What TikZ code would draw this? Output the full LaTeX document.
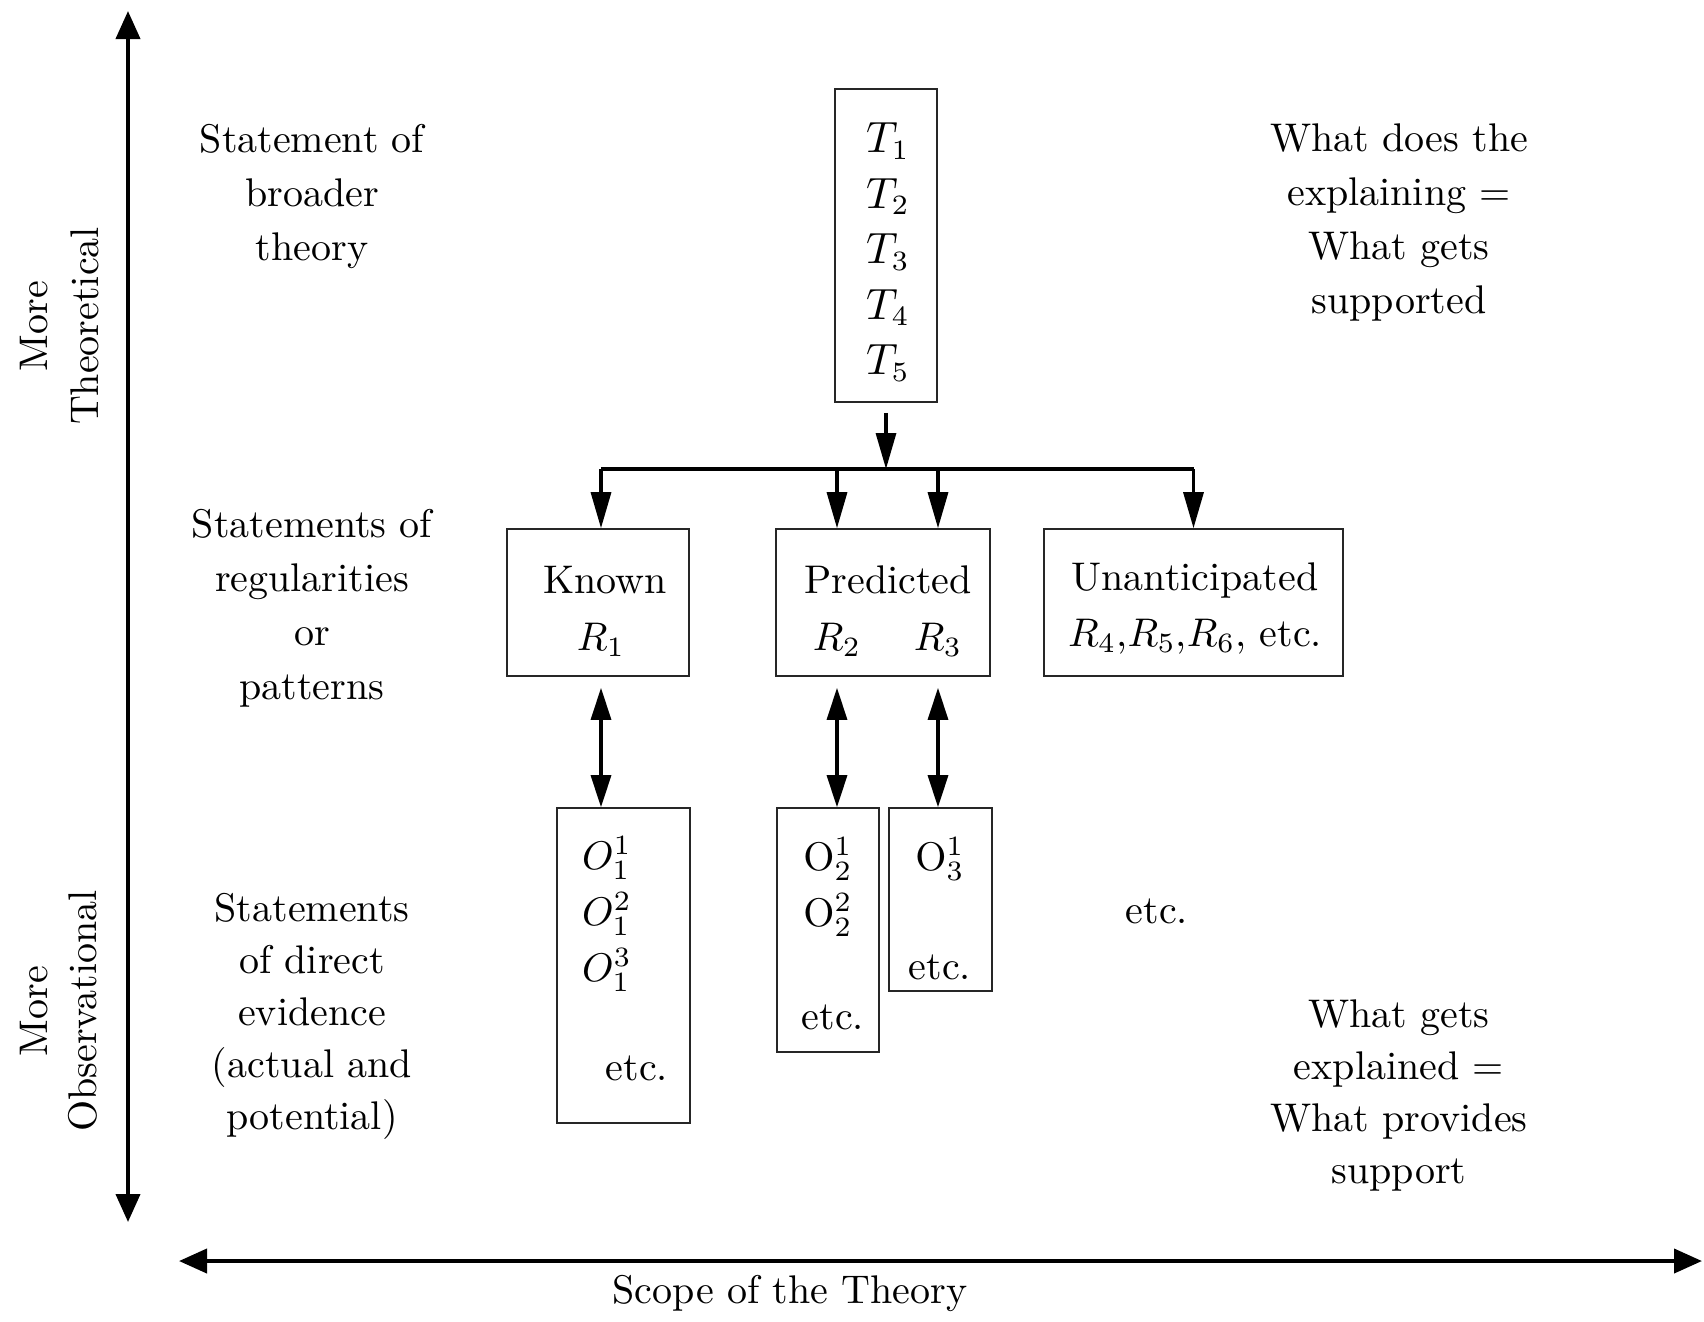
\documentclass[tikz,border=0pt]{standalone}
\usetikzlibrary{arrows.meta}
\begin{document}
\begin{tikzpicture}[x=0.25pt,y=-0.25pt,
  lbl/.style={font=\fontsize{10}{13.5}\selectfont, align=center, inner sep=0pt},
  lblb/.style={font=\fontsize{10}{13}\selectfont, align=center, inner sep=0pt},
  box/.style={draw=black!85, line width=0.4pt, inner sep=0pt},
  arr/.style={line width=0.8pt, -{Triangle[length=9pt,width=5pt]}},
  darr/.style={line width=0.8pt, {Triangle[length=8pt,width=5pt]}-{Triangle[length=8pt,width=5pt]}},
  axis/.style={line width=1pt, {Triangle[length=7pt,width=6pt]}-{Triangle[length=7pt,width=6pt]}},
  barline/.style={line width=0.9pt}]
\useasboundingbox (0,0) rectangle (1704,1321);

% axes
\coordinate (vtop) at (128,11);
\coordinate (vbot) at (128,1222);
\coordinate (hleft) at (179,1261);
\coordinate (hright) at (1702,1261);
\draw[axis] (vbot) -- (vtop);
\draw[axis] (hleft) -- (hright);
\node[lbl] (scope) at (790,1293) {Scope of the Theory};
\node[lbl, rotate=90, font=\fontsize{10}{12.75}\selectfont] (mtheo) at (60,326) {More\\Theoretical};
\node[lbl, rotate=90, font=\fontsize{10}{12.25}\selectfont] (mobs) at (59,1011) {More\\Observational};

% left labels
\node[lbl] (lt) at (312,196) {Statement of\\broader\\theory};
\node[lbl] (lr) at (312,608) {Statements of\\regularities\\or\\patterns};
\node[lblb] (le) at (312,1016) {Statements\\of direct\\evidence\\(actual and\\potential)};

% right labels
\node[lbl] (rt) at (1399,222) {What does the\\explaining =\\What gets\\supported};
\node[lblb] (rb) at (1399,1095) {What gets\\explained =\\What provides\\support};

% theory box
\node[box, minimum width=25.5pt, minimum height=78.25pt] (T) at (886,245.5) {};
\node[lbl, font=\fontsize{10.5}{13.85}\selectfont] (tt) at (888,252) {$T_1$\\$T_2$\\$T_3$\\$T_4$\\$T_5$};

% regularity boxes
\node[box, minimum width=45.5pt, minimum height=36.75pt] (known) at (598,602.5) {};
\node[box, minimum width=53.5pt, minimum height=36.75pt] (pred) at (883,602.5) {};
\node[box, minimum width=74.75pt, minimum height=36.75pt] (unant) at (1193.5,602.5) {};
\node[lbl] (knownt) at (605,580) {Known};
\node[lbl] (r1) at (601,640) {$R_1$};
\node[lbl] (predt) at (888,580) {Predicted};
\node[lbl] (r2) at (837,640) {$R_2$};
\node[lbl] (r3) at (938,640) {$R_3$};
\node[lbl] (unantt) at (1195,580) {Unanticipated};
\node[lbl] (r4) at (1195,637) {$R_4$,$R_5$,$R_6$, etc.};

% observation boxes
\node[box, minimum width=33.25pt, minimum height=78.75pt] (o1) at (623.5,965.5) {};
\node[box, minimum width=25.5pt, minimum height=61pt] (o2) at (828,930) {};
\node[box, minimum width=25.75pt, minimum height=45.75pt] (o3) at (940.5,899.5) {};
\node[lbl, font=\fontsize{10}{14}\selectfont] (o1s) at (607,914) {$O_1^1$\\$O_1^2$\\$O_1^3$};
\node[lbl] (o1e) at (637,1068) {etc.};
\node[lbl, font=\fontsize{10}{14}\selectfont] (o2s) at (828,887) {$\mathrm{O}_2^1$\\$\mathrm{O}_2^2$};
\node[lbl] (o2e) at (833,1017) {etc.};
\node[lbl] (o31) at (940,859) {$\mathrm{O}_3^1$};
\node[lbl] (o3e) at (940,967) {etc.};
\node[lbl] (etc) at (1157,911) {etc.};

% connectors
\coordinate (bar) at (889,469);
\draw[arr] ([yshift=-2.5pt]T.south) -- (T.south |- bar);
\draw[barline] (bar -| r1) -- (bar -| unant);
\draw[arr] (bar -| r1) -- (known.north -| r1);
\draw[arr] (bar -| r2) -- (pred.north -| r2);
\draw[arr] (bar -| r3) -- (pred.north -| r3);
\draw[arr] (bar -| unant) -- (unant.north);
\draw[darr] ([yshift=-2.75pt]known.south -| r1) -- (o1.north -| r1);
\draw[darr] ([yshift=-2.75pt]pred.south -| r2) -- (o2.north -| r2);
\draw[darr] ([yshift=-2.75pt]pred.south -| r3) -- (o3.north -| r3);
\end{tikzpicture}
\end{document}
